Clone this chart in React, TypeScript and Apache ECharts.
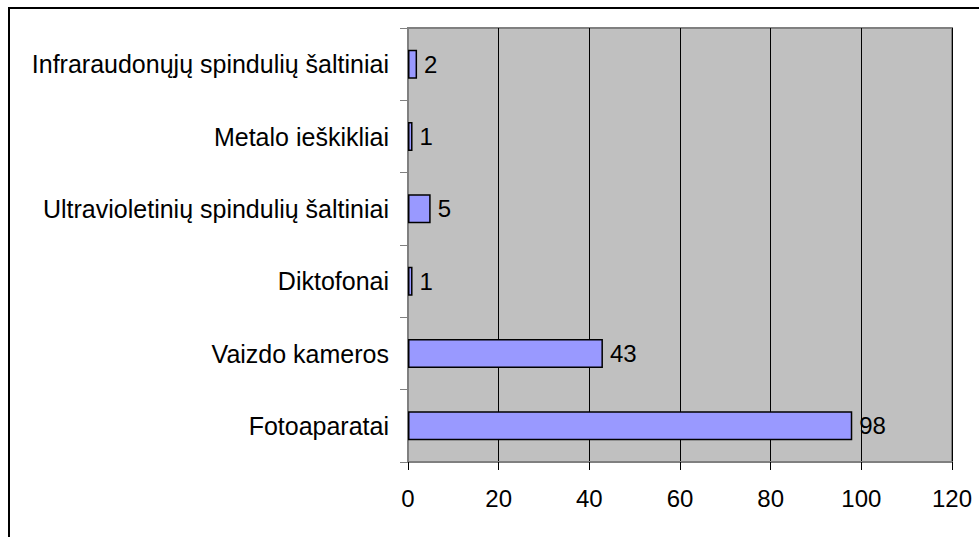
import React, { useEffect, useRef } from "react";
import * as echarts from "echarts";

const categories = [
  "Infraraudonųjų spindulių šaltiniai",
  "Metalo ieškikliai",
  "Ultravioletinių spindulių šaltiniai",
  "Diktofonai",
  "Vaizdo kameros",
  "Fotoaparatai",
];
const values = [2, 1, 5, 1, 43, 98];

export default function App() {
  const ref = useRef<HTMLDivElement>(null);
  useEffect(() => {
    document.body.style.margin = "0";
    const chart = echarts.init(ref.current!, null, { renderer: "svg" });
    chart.setOption({
      animation: false,
      backgroundColor: "#ffffff",
      textStyle: { fontFamily: "Liberation Sans, Arial, sans-serif" },
      graphic: [
        {
          type: "rect",
          shape: { x: 9, y: 8, width: 990, height: 560 },
          style: { fill: "none", stroke: "#000", lineWidth: 2 },
          silent: true,
        },
      ],
      grid: {
        left: 408,
        right: 27,
        top: 28,
        bottom: 75,
        show: true,
        backgroundColor: "#C0C0C0",
        borderColor: "#808080",
        borderWidth: 2,
        containLabel: false,
      },
      xAxis: {
        type: "value",
        min: 0,
        max: 120,
        interval: 20,
        axisLine: { show: true, lineStyle: { color: "#808080", width: 2 } },
        axisTick: { show: true, length: 8, lineStyle: { color: "#000" } },
        axisLabel: { color: "#000", fontSize: 24, margin: 24 },
        splitLine: { show: true, lineStyle: { color: "#000", width: 1 } },
      },
      yAxis: {
        type: "category",
        data: categories,
        inverse: true,
        axisLine: { show: true, lineStyle: { color: "#808080", width: 2 } },
        axisTick: { show: true, length: 8, lineStyle: { color: "#808080" } },
        axisLabel: { color: "#000", fontSize: 25, margin: 19 },
      },
      series: [
        {
          type: "bar",
          data: values,
          barWidth: 29,
          itemStyle: { color: "#9999FF", borderColor: "#000", borderWidth: 1.5 },
          label: { show: true, position: "right", color: "#000", fontSize: 24, distance: 7 },
        },
      ],
    });
    return () => chart.dispose();
  }, []);
  return <div ref={ref} style={{ width: 979, height: 537 }} />;
}
